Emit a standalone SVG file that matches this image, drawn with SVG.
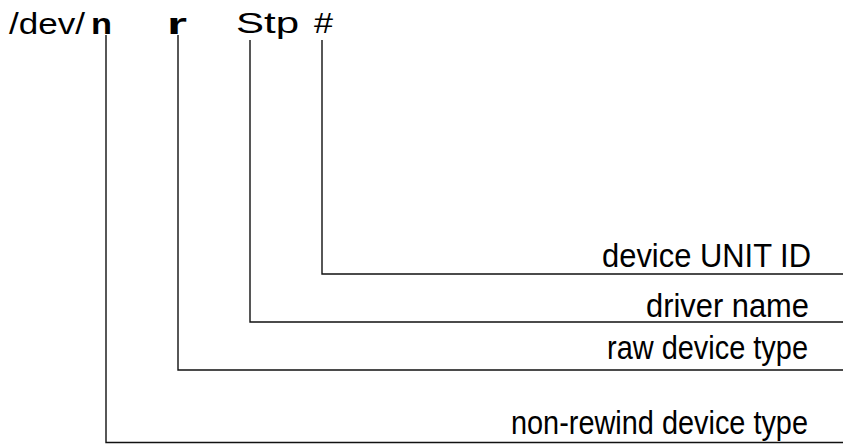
<svg xmlns="http://www.w3.org/2000/svg" width="843" height="445" viewBox="0 0 843 445">
<style>
text{font-family:"Liberation Sans",Arial,sans-serif;fill:#000}
.lbl{font-size:33px}
.top{font-size:30px}
.b{font-weight:bold}
.c{fill:none;stroke:#111;stroke-width:1.4}
</style>
<rect width="843" height="445" fill="#fff"/>
<g id="path-text">
<text class="top" x="9" y="34" textLength="76" lengthAdjust="spacingAndGlyphs">/dev/</text>
<text class="top b" x="91" y="34" font-size="29" textLength="21" lengthAdjust="spacingAndGlyphs">n</text>
<text class="top b" x="167" y="34" font-size="29" textLength="20" lengthAdjust="spacingAndGlyphs">r</text>
<text class="top" x="236" y="33" font-size="33" textLength="63" lengthAdjust="spacingAndGlyphs">Stp</text>
<text class="top" x="314" y="33" font-size="26" textLength="19" lengthAdjust="spacingAndGlyphs">#</text>
</g>
<g id="connectors">
<polyline class="c" points="322,40 322,274 843,274"/>
<polyline class="c" points="250,40 250,322 843,322"/>
<polyline class="c" points="178,35 178,370 843,370"/>
<polyline class="c" points="106,35 106,442.5 843,442.5"/>
</g>
<g id="unit-id"><text class="lbl" x="602" y="267" textLength="209" lengthAdjust="spacingAndGlyphs">device UNIT ID</text></g>
<g id="driver-name"><text class="lbl" x="646" y="317" textLength="163" lengthAdjust="spacingAndGlyphs">driver name</text></g>
<g id="raw-type"><text class="lbl" x="607" y="359" textLength="201" lengthAdjust="spacingAndGlyphs">raw device type</text></g>
<g id="nonrewind-type"><text class="lbl" x="511" y="434" font-size="32" textLength="297" lengthAdjust="spacingAndGlyphs">non-rewind device type</text></g>
</svg>
